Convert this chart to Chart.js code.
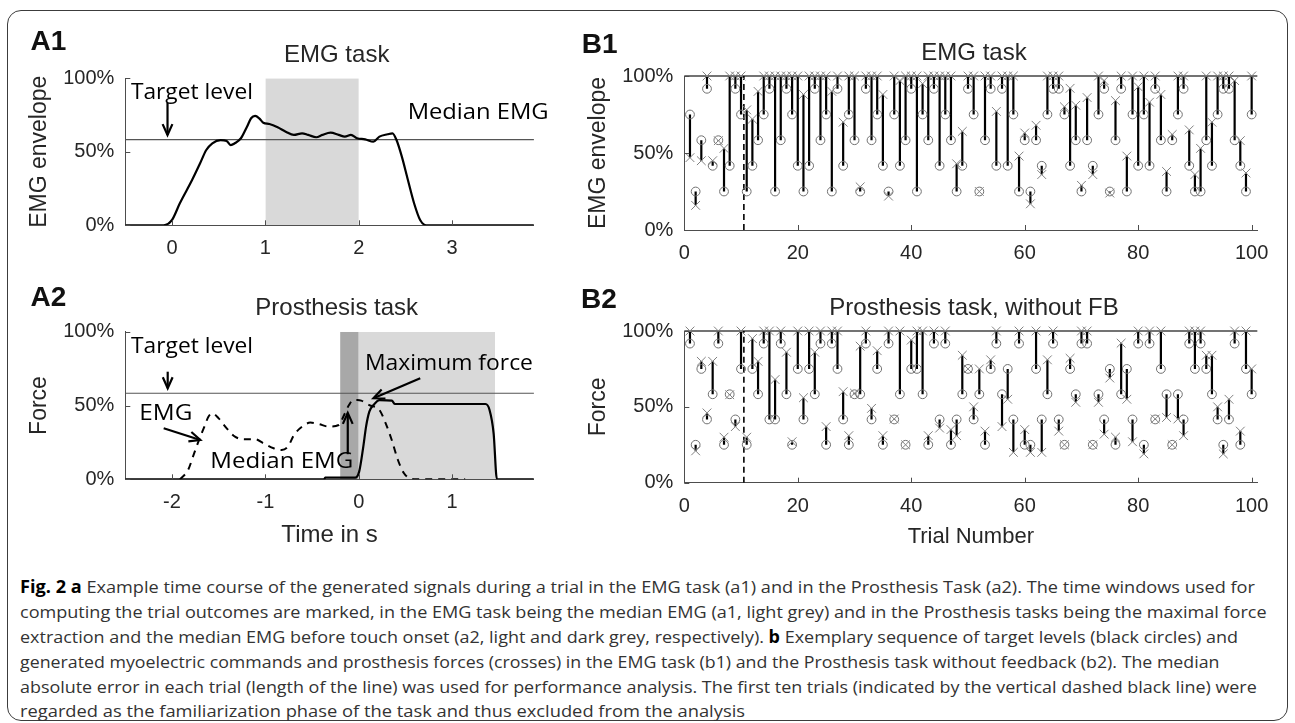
<!DOCTYPE html>
<html>
<head>
<meta charset="utf-8">
<script src="https://cdn.jsdelivr.net/npm/chart.js@4.4.1/dist/chart.umd.min.js"></script>
<style>
  html, body { margin:0; padding:0; background:#fff; }
  body { width:1295px; height:723px; overflow:hidden; position:relative; }
  #frame { position:absolute; left:7px; top:10px; width:1281px; height:711px; box-sizing:border-box;
           border:1.5px solid #3c3c3c; border-radius:14px; }
  canvas { position:absolute; }
  .cap { position:absolute; left:20px; white-space:nowrap; font-family:'Open Sans', sans-serif;
         font-size:17px; line-height:22px; color:#333; transform-origin:0 50%; }
  .cap b { color:#000; font-weight:700; }
</style>
</head>
<body>
<div id="frame"></div>
<canvas id="cA1" width="560" height="260" style="left:0px;top:20px"></canvas>
<canvas id="cB1" width="720" height="260" style="left:560px;top:20px"></canvas>
<canvas id="cA2" width="560" height="280" style="left:0px;top:275px"></canvas>
<canvas id="cB2" width="720" height="280" style="left:560px;top:275px"></canvas>

<div class="cap" data-w="1235" style="top:576px"><b>Fig. 2 a</b> Example time course of the generated signals during a trial in the EMG task (a1) and in the Prosthesis Task (a2). The time windows used for</div>
<div class="cap" data-w="1247" style="top:601px">computing the trial outcomes are marked, in the EMG task being the median EMG (a1, light grey) and in the Prosthesis tasks being the maximal force</div>
<div class="cap" data-w="1218" style="top:626px">extraction and the median EMG before touch onset (a2, light and dark grey, respectively). <b>b</b> Exemplary sequence of target levels (black circles) and</div>
<div class="cap" data-w="1200" style="top:651px">generated myoelectric commands and prosthesis forces (crosses) in the EMG task (b1) and the Prosthesis task without feedback (b2). The median</div>
<div class="cap" data-w="1237" style="top:676px">absolute error in each trial (length of the line) was used for performance analysis. The first ten trials (indicated by the vertical dashed black line) were</div>
<div class="cap" data-w="725" style="top:700px">regarded as the familiarization phase of the task and thus excluded from the analysis</div>

<script>
// ---------------- DATA ----------------
const yTicks = [0, 50, 100];
const a1TickVals = [0, 1, 2, 3];
const a2TickVals = [-2, -1, 0, 1];
const bTickVals = [0, 20, 40, 60, 80, 100];
const targetLevel = 58.3;

// A1: EMG envelope over time (s), in %
const a1Time = [-0.5,-0.09,0,0.084,0.215,0.301,0.367,0.432,0.52,0.585,0.628,0.672,0.738,0.803,0.847,0.89,0.934,0.978,1.043,1.131,1.218,1.305,1.393,1.458,1.545,1.61,1.698,1.785,1.851,1.916,1.982,2.068,2.156,2.221,2.308,2.361,2.404,2.461,2.526,2.592,2.657,2.723,3.875];
const a1Emg  = [0,0,3.6,15,30.8,42.2,51.2,55.8,58,57.4,54.6,55.8,59.2,67.1,72.8,74.4,72.8,69.8,68.9,66.7,63.7,61.5,62.6,61.5,59.9,61.5,63,61.5,60.3,61.5,59.2,58.5,56.9,60.3,61.9,62.6,58,46.7,30.8,15,3.6,0,0];
const a1Window = [1, 2];

// A2: force (solid) and EMG (dashed) over time (s), in %
const a2ForceTime = [-2.5,-0.37,-0.36,-0.039,0.004,0.048,0.078,0.113,0.157,0.222,0.353,0.388,0.528,1.357,1.4,1.444,1.479,1.875];
const a2Force     = [0,0,1.1,1.1,5.2,22,35.7,45.8,50.3,53.7,53.3,51,51,51,47,31,0,0];
const a2EmgTime = [-1.915,-1.828,-1.763,-1.697,-1.653,-1.61,-1.567,-1.5,-1.414,-1.326,-1.217,-1.108,-1.021,-0.912,-0.825,-0.759,-0.694,-0.606,-0.519,-0.432,-0.323,-0.214,-0.157,-0.105,-0.061,-0.017,0.026,0.113,0.222,0.288,0.353,0.419,0.484,0.55,0.615,1.139];
const a2Emg     = [0,6.3,17.6,28.9,35.7,42.4,44.7,41.3,34.5,28.9,27.1,27.1,24.4,21,19.9,22.1,30,35.7,38.4,37.5,35.7,36.8,43.6,50.3,53.7,53.7,53.3,50.3,46.9,37.9,26.6,13.1,4.1,0.5,0,0];
const a2DarkWindow = [-0.2, 0];
const a2LightWindow = [0, 1.46];

// B1: EMG task, target levels (circles) and generated values (crosses), %
const b1Target = [75,25,58.3,91.7,41.7,58.3,25,41.7,91.7,75, 25,41.7,58.3,75,91.7,25,58.3,91.7,75,41.7, 25,41.7,91.7,58.3,75,25,91.7,41.7,75,58.3, 25,91.7,58.3,75,41.7,25,75,41.7,58.3,91.7, 25,75,58.3,91.7,41.7,75,58.3,25,41.7,91.7, 75,25,58.3,91.7,41.7,91.7,41.7,75,25,58.3, 25,58.3,41.7,75,91.7,91.7,75,41.7,58.3,25, 58.3,41.7,75,91.7,25,58.3,91.7,25,75,41.7, 75,41.7,91.7,58.3,25,58.3,75,91.7,41.7,25, 25,58.3,41.7,75,91.7,91.7,58.3,41.7,25,75];
const b1Actual = [47,16,45,100,45,58,53,100,100,100, 78,72,90,100,100,100,100,100,100,100, 88,100,100,100,100,90,100,70,100,100, 28,100,100,100,88,22,100,97,100,100, 100,95,100,100,100,100,100,43,64,100, 100,25,100,100,77,100,100,100,48,63, 17,68,36,100,100,100,80,92,81,29, 86,36,100,97,24,84,100,48,100,93, 100,83,100,88,38,62,100,100,65,36, 53,100,70,100,100,100,97,58,37,100];

// B2: Prosthesis task without feedback
const b2Target = [91.7,25,75,41.7,58.3,91.7,25,58.3,41.7,75, 25,75,58.3,91.7,41.7,41.7,91.7,58.3,25,75, 41.7,75,58.3,91.7,25,91.7,75,41.7,25,58.3, 58.3,91.7,41.7,75,25,91.7,41.7,58.3,25,75, 75,58.3,25,91.7,41.7,91.7,25,41.7,58.3,75, 41.7,58.3,25,75,91.7,58.3,75,41.7,91.7,25, 25,75,41.7,58.3,91.7,41.7,25,75,58.3,91.7, 91.7,25,58.3,41.7,75,25,58.3,75,41.7,91.7, 25,91.7,41.7,75,58.3,25,58.3,41.7,91.7,75, 91.7,75,58.3,41.7,25,41.7,91.7,25,75,58.3];
const b2Actual = [100,21,80,46,80,100,30,58,37,100, 30,95,80,100,100,68,100,86,27,100, 56,100,86,100,37,100,100,60,31,59, 90,100,49,87,31,100,42,100,25,94, 100,100,31,100,36,100,35,31,84,75, 50,75,34,81,100,37,55,20,100,35, 20,100,20,81,100,34,25,82,53,100, 100,25,53,32,69,30,92,55,27,100, 19,100,42,100,43,25,42,31,100,100, 100,84,84,50,19,55,100,34,100,75];
const familiarizationEnd = 10.5;
const trials = b1Target.map((_, i) => i + 1);

// ---------------- STYLE ----------------
const FONT = "'Liberation Sans', Arial, Helvetica, sans-serif";
const ANN = "'Open Sans', sans-serif";
const TXT = '#262626';
const AXIS = '#4d4d4d';
Chart.defaults.font.family = FONT;
Chart.defaults.color = TXT;

const pts = (xs, ys) => xs.map((x, i) => ({ x, y: ys[i] }));
function errSegs(tr, tg, ac) {
  const d = [];
  tr.forEach((n, i) => { d.push({ x: n, y: tg[i] }, { x: n, y: ac[i] }, { x: n, y: null }); });
  return d;
}

const deco = {
  id: 'deco',
  afterDraw(chart, args, o) {
    const ctx = chart.ctx, xs = chart.scales.x, ys = chart.scales.y;
    const off = o.offset || [0, 0];
    ctx.save();
    // inward tick marks
    ctx.strokeStyle = AXIS; ctx.lineWidth = 1;
    ctx.beginPath();
    xs.ticks.forEach(t => { const p = Math.round(xs.getPixelForValue(t.value)) + 0.5; ctx.moveTo(p, ys.bottom); ctx.lineTo(p, ys.bottom - 5); });
    ys.ticks.forEach(t => { const p = Math.round(ys.getPixelForValue(t.value)) + 0.5; ctx.moveTo(xs.left, p); ctx.lineTo(xs.left + 5, p); });
    ctx.stroke();
    // texts
    (o.texts || []).forEach(it => {
      const x = it.data ? xs.getPixelForValue(it.x) : it.x - off[0];
      const y = it.data ? ys.getPixelForValue(it.y) : it.y - off[1];
      ctx.font = `${it.weight || 'normal'} ${it.size}px ${it.family || FONT}`;
      ctx.fillStyle = it.color || '#000';
      ctx.textBaseline = 'middle';
      ctx.textAlign = it.align || 'left';
      const w = ctx.measureText(it.text).width;
      ctx.save();
      ctx.translate(x, y);
      if (it.width) ctx.scale(it.width / w, 1);
      ctx.fillText(it.text, 0, 0);
      ctx.restore();
    });
    // arrows
    (o.arrows || []).forEach(a => {
      const x1 = xs.getPixelForValue(a.x1), y1 = ys.getPixelForValue(a.y1);
      const x2 = xs.getPixelForValue(a.x2), y2 = ys.getPixelForValue(a.y2);
      ctx.strokeStyle = '#000'; ctx.lineWidth = 2.2; ctx.lineJoin = 'miter';
      ctx.beginPath(); ctx.moveTo(x1, y1); ctx.lineTo(x2, y2); ctx.stroke();
      const ang = Math.atan2(y2 - y1, x2 - x1), hl = 12, ha = 0.42;
      ctx.beginPath();
      ctx.moveTo(x2 - hl * Math.cos(ang - ha), y2 - hl * Math.sin(ang - ha));
      ctx.lineTo(x2, y2);
      ctx.lineTo(x2 - hl * Math.cos(ang + ha), y2 - hl * Math.sin(ang + ha));
      ctx.stroke();
    });
    ctx.restore();
  }
};

function yAxis(width, title, titlePad) {
  return {
    type: 'linear', min: 0, max: 100,
    afterBuildTicks: s => { s.ticks = yTicks.map(v => ({ value: v })); },
    afterFit: s => { s.width = width; },
    grid: { display: false, drawTicks: false },
    border: { display: true, color: AXIS, width: 1 },
    ticks: { padding: 11, color: TXT, font: { family: FONT, size: 20 }, callback: v => v + '%' },
    title: { display: true, text: title, color: TXT, font: { family: FONT, size: 23 }, padding: { top: titlePad, bottom: 0 } }
  };
}
function xAxis(min, max, tickVals, height, title, titleSize, padBottom) {
  return {
    type: 'linear', min, max,
    afterBuildTicks: s => { s.ticks = tickVals.map(v => ({ value: v })); },
    afterFit: s => { s.height = height; },
    grid: { display: false, drawTicks: false },
    border: { display: true, color: AXIS, width: 1 },
    ticks: { padding: 11.5, color: TXT, font: { family: FONT, size: 20 }, maxRotation: 0, autoSkip: false, callback: v => String(v) },
    title: title ? { display: true, text: title, color: TXT, font: { family: FONT, size: titleSize }, padding: { top: 0, bottom: padBottom } } : { display: false }
  };
}
function band(x0, x1, color, order) {
  return { type: 'line', data: [{ x: x0, y: 100 }, { x: x1, y: 100 }], fill: 'origin', backgroundColor: color,
           borderWidth: 0, pointRadius: 0, order };
}
function hline(x0, x1, y, color, w, order) {
  return { type: 'line', data: [{ x: x0, y }, { x: x1, y }], borderColor: color, borderWidth: w, pointRadius: 0, order, clip: false };
}
function baseOptions(padding, scales, decoOpts) {
  return {
    responsive: false, animation: false, events: [],
    layout: { padding },
    plugins: { legend: { display: false }, tooltip: { enabled: false }, title: { display: false }, deco: decoOpts },
    scales
  };
}

// ---------------- A1 ----------------
new Chart(document.getElementById('cA1'), {
  type: 'line',
  plugins: [deco],
  data: { datasets: [
    band(a1Window[0], a1Window[1], '#d9d9d9', 10),
    hline(-0.5, 3.875, targetLevel, '#555', 1.2, 5),
    { data: pts(a1Time, a1Emg), borderColor: '#000', borderWidth: 2.2, pointRadius: 0, cubicInterpolationMode: 'monotone', order: 1 }
  ]},
  options: baseOptions({ left: 10, top: 58.3, right: 26.1, bottom: 0 },
    { x: xAxis(-0.5, 3.875, a1TickVals, 54.7), y: yAxis(115.3, 'EMG envelope', 16.2) },
    { offset: [0, 20],
      texts: [
        { text: 'A1', x: 30.6, y: 42.5, size: 28, weight: 'bold', color: '#111' },
        { text: 'EMG task', x: 336.7, y: 55, size: 24, align: 'center', color: TXT },
        { text: 'Target level', data: true, x: -0.44, y: 90, size: 22, family: ANN, width: 122 },
        { text: 'Median EMG', data: true, x: 2.523, y: 76.4, size: 22, family: ANN, width: 141 }
      ],
      arrows: [ { x1: -0.048, y1: 83.2, x2: -0.048, y2: 61.4 } ]
    })
});

// ---------------- A2 ----------------
new Chart(document.getElementById('cA2'), {
  type: 'line',
  plugins: [deco],
  data: { datasets: [
    band(a2LightWindow[0], a2LightWindow[1], '#d9d9d9', 11),
    band(a2DarkWindow[0], a2DarkWindow[1], '#a8a8a8', 10),
    hline(-2.5, 1.875, targetLevel, '#555', 1.2, 5),
    { data: pts(a2EmgTime, a2Emg), borderColor: '#000', borderWidth: 2, borderDash: [7, 6], pointRadius: 0, cubicInterpolationMode: 'monotone', order: 2 },
    { data: pts(a2ForceTime, a2Force), borderColor: '#000', borderWidth: 2.2, pointRadius: 0, cubicInterpolationMode: 'monotone', order: 1 }
  ]},
  options: baseOptions({ left: 10, top: 56.7, right: 26.1, bottom: 0 },
    { x: xAxis(-2.5, 1.875, a2TickVals, 75.7, 'Time in s', 24, 5.6), y: yAxis(115.3, 'Force', 16.2) },
    { offset: [0, 275],
      texts: [
        { text: 'A2', x: 30.6, y: 298, size: 28, weight: 'bold', color: '#111' },
        { text: 'Prosthesis task', x: 336.7, y: 308.4, size: 24, align: 'center', color: TXT },
        { text: 'Target level', data: true, x: -2.438, y: 89.8, size: 22, family: ANN, width: 122 },
        { text: 'EMG', data: true, x: -2.35, y: 44.7, size: 22, family: ANN, width: 53 },
        { text: 'Median EMG', data: true, x: -1.59, y: 11.9, size: 22, family: ANN, width: 143 },
        { text: 'Maximum force', data: true, x: 0.066, y: 78.6, size: 22, family: ANN, width: 168 }
      ],
      arrows: [
        { x1: -2.046, y1: 72.9, x2: -2.046, y2: 61.7 },
        { x1: -2.089, y1: 34.6, x2: -1.697, y2: 26.6 },
        { x1: -0.118, y1: 17, x2: -0.118, y2: 45 },
        { x1: 0.658, y1: 68.4, x2: 0.157, y2: 54.9 }
      ]
    })
});

// ---------------- B panels ----------------
function bChart(id, target, actual, padding, xh, xTitle, yTitle, decoOpts) {
  return new Chart(document.getElementById(id), {
    type: 'line',
    plugins: [deco],
    data: { datasets: [
      hline(0, 101, 100, '#444', 1.3, 6),
      { data: [{ x: familiarizationEnd, y: 0 }, { x: familiarizationEnd, y: 100 }], borderColor: '#000', borderWidth: 1.6, borderDash: [6, 4], pointRadius: 0, order: 5 },
      { data: errSegs(trials, target, actual), borderColor: '#000', borderWidth: 2.2, pointRadius: 0, spanGaps: false, order: 3 },
      { data: pts(trials, target), showLine: false, pointStyle: 'circle', pointRadius: 4.4, pointBorderWidth: 1,
        pointBorderColor: '#707070', pointBackgroundColor: 'rgba(0,0,0,0)', order: 2, clip: false },
      { data: pts(trials, actual), showLine: false, pointStyle: 'crossRot', pointRadius: 6.2, pointBorderWidth: 1,
        pointBorderColor: '#808080', pointBackgroundColor: 'rgba(0,0,0,0)', order: 1, clip: false }
    ]},
    options: baseOptions(padding,
      { x: xAxis(0, 101, bTickVals, xh, xTitle, 22, 4.8), y: yAxis(114.3, yTitle, 15.2) },
      decoOpts)
  });
}
bChart('cB1', b1Target, b1Actual, { left: 10, top: 56, right: 16, bottom: 0 }, 50, null, 'EMG envelope',
  { offset: [560, 20], texts: [
    { text: 'B1', x: 581.7, y: 45, size: 28, weight: 'bold', color: '#111' },
    { text: 'EMG task', x: 974, y: 53, size: 24, align: 'center', color: TXT } ] });
bChart('cB2', b2Target, b2Actual, { left: 10, top: 56, right: 16, bottom: 0 }, 72.3, 'Trial Number', 'Force',
  { offset: [560, 275], texts: [
    { text: 'B2', x: 581, y: 300, size: 28, weight: 'bold', color: '#111' },
    { text: 'Prosthesis task, without FB', x: 974, y: 308, size: 24, align: 'center', color: TXT } ] });

// ---------------- caption fitting ----------------
document.querySelectorAll('.cap').forEach(d => {
  const w = d.offsetWidth;
  d.style.transform = `scaleX(${(+d.dataset.w) / w})`;
});
</script>
</body>
</html>
